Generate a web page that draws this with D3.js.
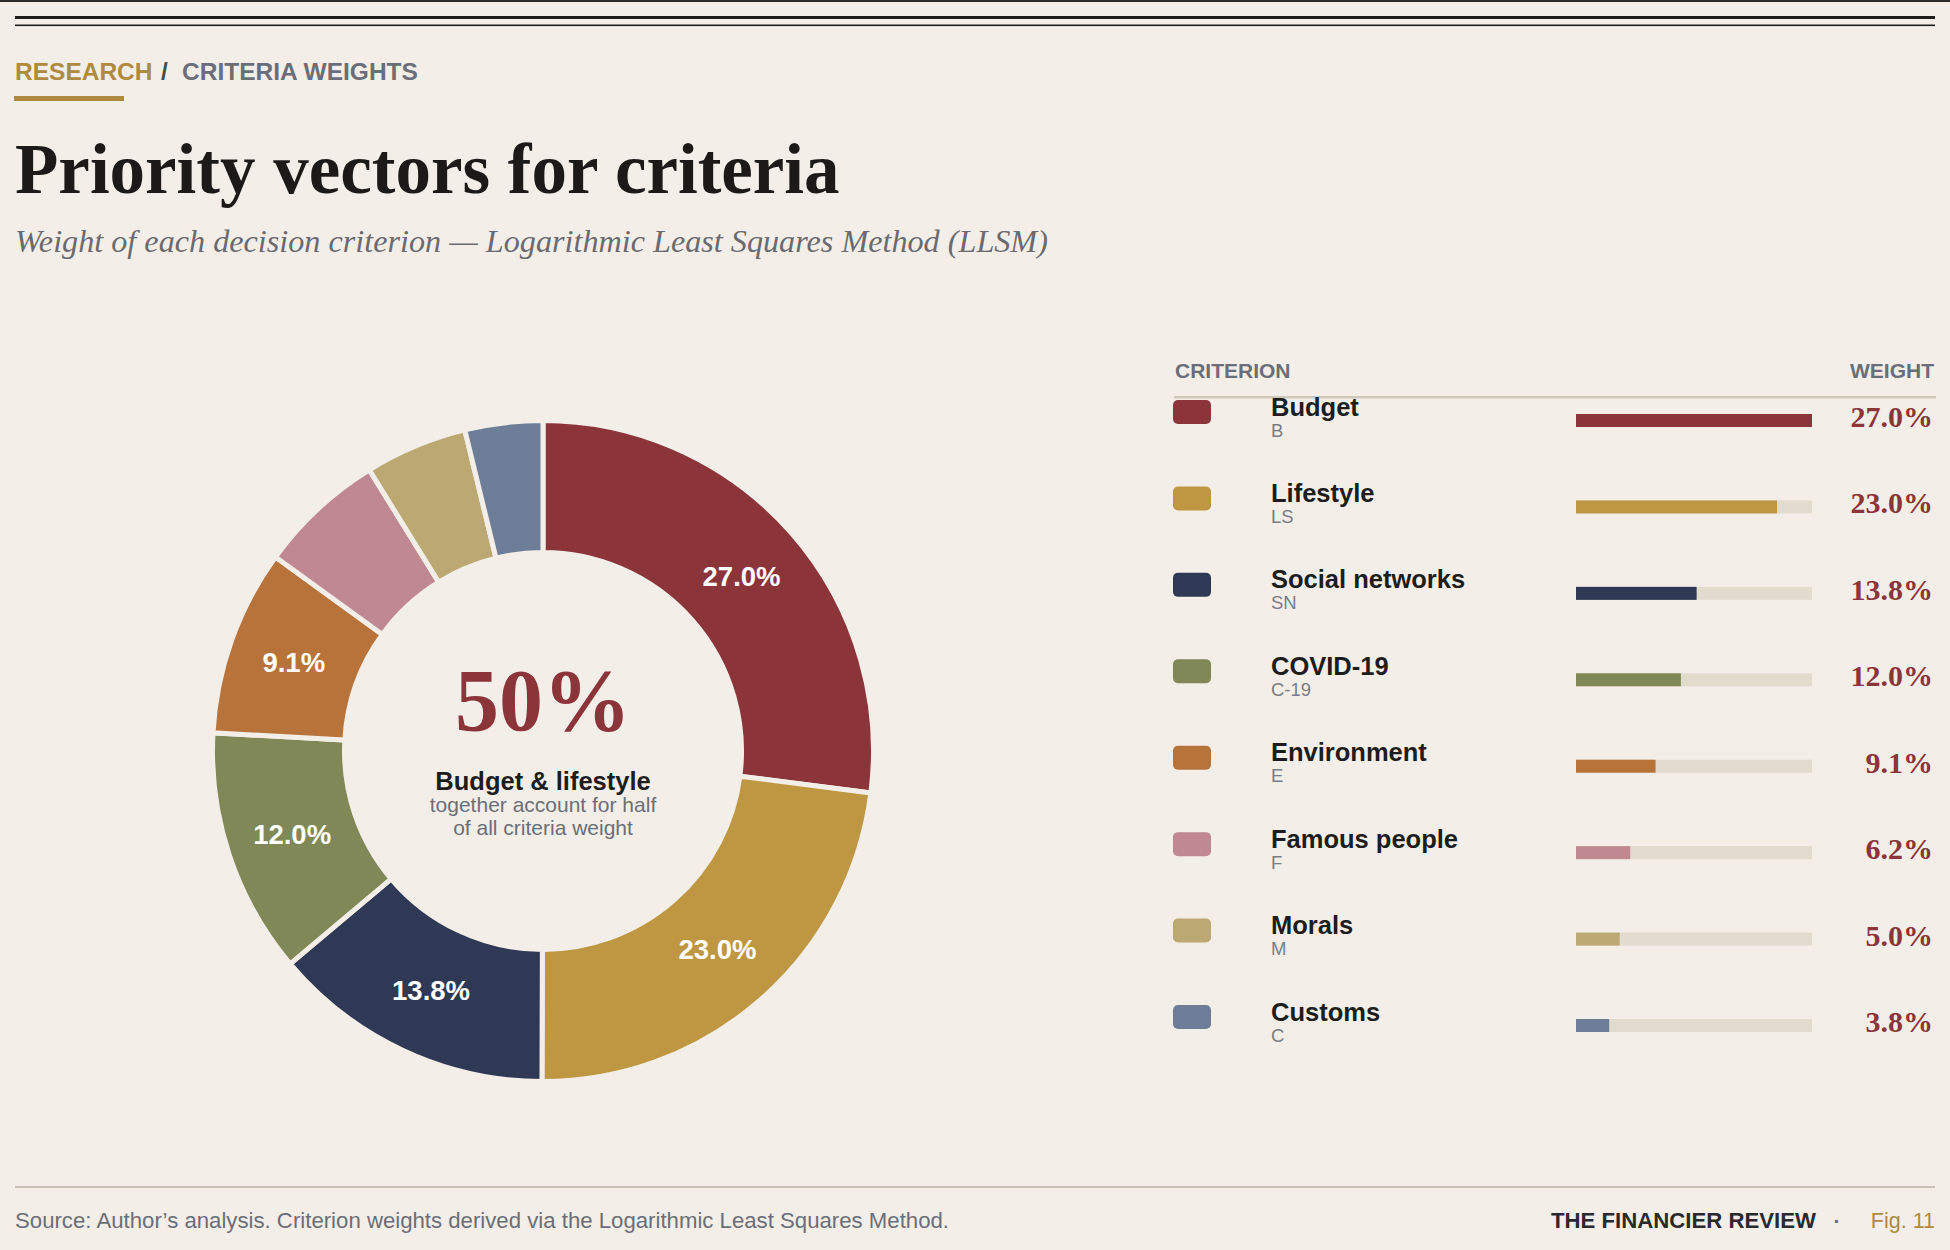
<!DOCTYPE html>
<html>
<head>
<meta charset="utf-8">
<script src="https://cdn.jsdelivr.net/npm/d3@7/dist/d3.min.js"></script>
<style>
  html, body { margin: 0; padding: 0; background: #f3efe8; }
  svg { display: block; }
  .sans { font-family: "Liberation Sans", Arial, sans-serif; }
  .serif { font-family: "Liberation Serif", "Times New Roman", serif; }
</style>
</head>
<body>
<svg id="chart" width="1950" height="1250"></svg>
<script>
// ---- Data ----
const criteria = ["Budget", "Lifestyle", "Social networks", "COVID-19", "Environment", "Famous people", "Morals", "Customs"];
const codes = ["B", "LS", "SN", "C-19", "E", "F", "M", "C"];
const weights = [27.0, 23.0, 13.8, 12.0, 9.1, 6.2, 5.0, 3.8];
const colors = ["#8b353b", "#bf9743", "#2f3854", "#7f8856", "#b8733b", "#c08890", "#bba872", "#6e7e98"];

const headline = "Priority vectors for criteria";
const subtitle = "Weight of each decision criterion — Logarithmic Least Squares Method (LLSM)";
const centerValue = "50%";
const centerLines = ["Budget & lifestyle", "together account for half", "of all criteria weight"];
const sourceNote = "Source: Author’s analysis. Criterion weights derived via the Logarithmic Least Squares Method.";

const rows = criteria.map((name, i) => ({ name, code: codes[i], w: weights[i], color: colors[i] }));

const BG = "#f3efe8";
const svg = d3.select("#chart");
svg.append("rect").attr("width", 1950).attr("height", 1250).attr("fill", BG);

// ---- Top rules ----
svg.append("rect").attr("x", 0).attr("y", 0).attr("width", 1950).attr("height", 2).attr("fill", "#2b2b2b");
svg.append("rect").attr("x", 15).attr("y", 16).attr("width", 1920).attr("height", 3).attr("fill", "#1f1e1c");
svg.append("rect").attr("x", 15).attr("y", 24.5).attr("width", 1920).attr("height", 1.6).attr("fill", "#1f1e1c");

// ---- Breadcrumb ----
svg.append("text").attr("class", "sans").attr("x", 15).attr("y", 80)
  .attr("font-size", 24.5).attr("font-weight", 700).attr("fill", "#b08a3e").text("RESEARCH");
svg.append("text").attr("class", "sans").attr("x", 161).attr("y", 80)
  .attr("font-size", 24.5).attr("font-weight", 700).attr("fill", "#4a4a4f").text("/");
svg.append("text").attr("class", "sans").attr("x", 182).attr("y", 80)
  .attr("font-size", 24.5).attr("font-weight", 700).attr("fill", "#6b6e78").text("CRITERIA WEIGHTS");
svg.append("rect").attr("x", 14).attr("y", 96).attr("width", 110).attr("height", 5).attr("fill", "#b08a3e");

// ---- Title ----
svg.append("text").attr("class", "serif").attr("x", 15).attr("y", 193)
  .attr("font-size", 71).attr("font-weight", 700).attr("fill", "#1b1a18").text(headline);
svg.append("text").attr("class", "serif").attr("x", 15).attr("y", 252)
  .attr("font-size", 32.2).attr("font-style", "italic").attr("fill", "#6b6a70").text(subtitle);

// ---- Donut ----
const cx = 543, cy = 751;
const pie = d3.pie().sort(null).value(d => d.w);
const arc = d3.arc().innerRadius(198.5).outerRadius(330.5);
const labelArc = d3.arc().innerRadius(264.5).outerRadius(264.5);
const g = svg.append("g").attr("transform", `translate(${cx},${cy})`);
const arcs = pie(rows);
g.selectAll("path.slice").data(arcs).join("path")
  .attr("class", "slice")
  .attr("d", arc)
  .attr("fill", d => d.data.color)
  .attr("stroke", BG)
  .attr("stroke-width", 5)
  .attr("stroke-linejoin", "miter");
g.selectAll("text.slabel").data(arcs.filter(d => d.data.w >= 8)).join("text")
  .attr("class", "slabel sans")
  .attr("transform", d => `translate(${labelArc.centroid(d)})`)
  .attr("text-anchor", "middle")
  .attr("dominant-baseline", "central")
  .attr("font-size", 27.5).attr("font-weight", 700).attr("fill", "#ffffff")
  .text(d => d.data.w.toFixed(1) + "%");

// centre text
svg.append("text").attr("class", "serif").attr("x", cx).attr("y", 730)
  .attr("text-anchor", "middle").attr("font-size", 88).attr("font-weight", 700)
  .attr("fill", "#8b353b").text(centerValue);
svg.append("text").attr("class", "sans").attr("x", cx).attr("y", 790)
  .attr("text-anchor", "middle").attr("font-size", 25.5).attr("font-weight", 700)
  .attr("fill", "#1d1d1d").text(centerLines[0]);
svg.append("text").attr("class", "sans").attr("x", cx).attr("y", 812)
  .attr("text-anchor", "middle").attr("font-size", 21).attr("fill", "#6b6e78").text(centerLines[1]);
svg.append("text").attr("class", "sans").attr("x", cx).attr("y", 835)
  .attr("text-anchor", "middle").attr("font-size", 21).attr("fill", "#6b6e78").text(centerLines[2]);

// ---- Legend table ----
svg.append("text").attr("class", "sans").attr("x", 1175).attr("y", 378)
  .attr("font-size", 21).attr("font-weight", 700).attr("fill", "#6b6e78").text("CRITERION");
svg.append("text").attr("class", "sans").attr("x", 1934).attr("y", 378).attr("text-anchor", "end")
  .attr("font-size", 21).attr("font-weight", 700).attr("fill", "#6b6e78").text("WEIGHT");
svg.append("rect").attr("x", 1174).attr("y", 396).attr("width", 762).attr("height", 2.5).attr("fill", "#cfc9bd");

const rowY = d3.scaleLinear().domain([0, 1]).range([400, 486.43]);
const barX = d3.scaleLinear().domain([0, d3.max(weights)]).range([0, 236]);
const lg = svg.append("g");
const row = lg.selectAll("g.row").data(rows).join("g")
  .attr("class", "row")
  .attr("transform", (d, i) => `translate(0,${rowY(i)})`);
row.append("rect").attr("x", 1173).attr("y", 0).attr("width", 38).attr("height", 24).attr("rx", 5)
  .attr("fill", d => d.color);
row.append("text").attr("class", "sans").attr("x", 1271).attr("y", 15.5)
  .attr("font-size", 25.5).attr("font-weight", 700).attr("fill", "#1d1d1d").text(d => d.name);
row.append("text").attr("class", "sans").attr("x", 1271).attr("y", 36.5)
  .attr("font-size", 18.5).attr("fill", "#7a7c85").text(d => d.code);
row.append("rect").attr("x", 1576).attr("y", 14).attr("width", barX.range()[1]).attr("height", 13)
  .attr("fill", "#e2dccf");
row.append("rect").attr("x", 1576).attr("y", 14).attr("width", d => barX(d.w)).attr("height", 13)
  .attr("fill", d => d.color);
row.append("text").attr("class", "serif").attr("x", 1933).attr("y", 27).attr("text-anchor", "end")
  .attr("font-size", 30).attr("font-weight", 700).attr("fill", "#8b353b")
  .text(d => d.w.toFixed(1) + "%");

// ---- Footer ----
svg.append("rect").attr("x", 15).attr("y", 1186).attr("width", 1920).attr("height", 2).attr("fill", "#c9c3b7");
svg.append("text").attr("class", "sans").attr("x", 15).attr("y", 1228)
  .attr("font-size", 22.2).attr("fill", "#6b6e78").text(sourceNote);
svg.append("text").attr("class", "sans").attr("x", 1935).attr("y", 1228).attr("text-anchor", "end")
  .attr("font-size", 21.5).attr("fill", "#b08a3e").text("Fig. 11");
svg.append("text").attr("class", "sans").attr("x", 1837).attr("y", 1228).attr("text-anchor", "middle")
  .attr("font-size", 21).attr("font-weight", 700).attr("fill", "#6b6e78").text("·");
svg.append("text").attr("class", "sans").attr("x", 1816).attr("y", 1228).attr("text-anchor", "end")
  .attr("font-size", 22.2).attr("font-weight", 700).attr("fill", "#2a2a2e").text("THE FINANCIER REVIEW");
</script>
</body>
</html>
